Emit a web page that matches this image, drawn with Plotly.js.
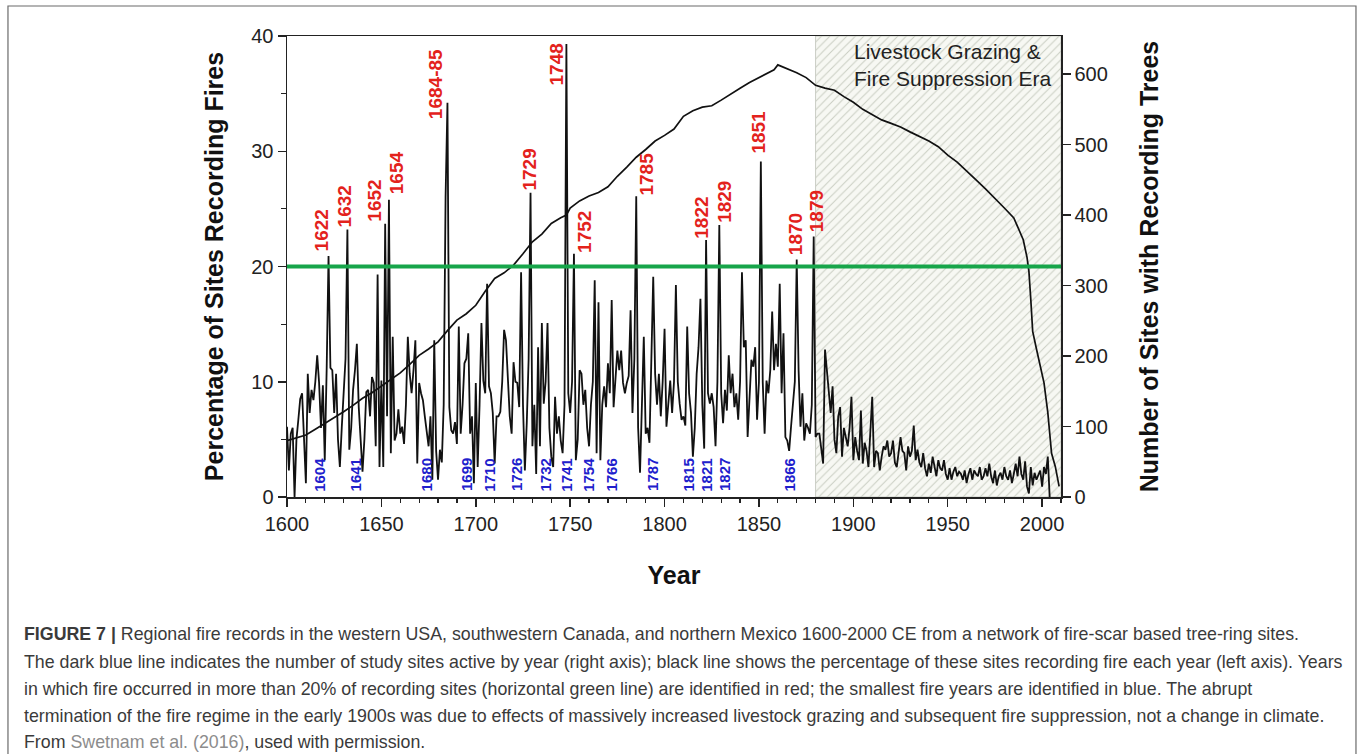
<!DOCTYPE html>
<html>
<head>
<meta charset="utf-8">
<script src="https://cdn.plot.ly/plotly-3.0.1.min.js"></script>
<style>
  html, body { margin: 0; padding: 0; background: #ffffff; }
  #chart { width: 1360px; height: 754px; }
</style>
</head>
<body>
<div id="chart"></div>
<script>
// ---------------- DATA ----------------
// Percentage of sites recording fire, one value per year starting 1600
const fireStartYear = 1600;
const firePct = [
  6.1, 2.3, 5.5, 6.0, 0.0, 5.0, 6.7, 8.5, 9.0, 5.0,      // 1600-1609
  1.2, 10.7, 7.3, 9.3, 8.4, 10.0, 12.3, 9.9, 6.0, 9.7,   // 1610-1619
  3.2, 11.0, 20.9, 11.2, 11.0, 7.3, 10.7, 5.0, 2.6, 6.0, // 1620-1629
  9.3, 12.0, 23.2, 4.1, 6.0, 9.3, 11.0, 13.3, 7.8, 5.0,  // 1630-1639
  2.2, 5.0, 9.1, 9.3, 7.0, 10.4, 9.9, 4.4, 19.3, 2.6,    // 1640-1649
  10.1, 2.6, 23.7, 7.0, 25.8, 3.8, 13.9, 4.9, 5.5, 7.6,  // 1650-1659
  5.5, 6.1, 4.6, 8.0, 13.9, 10.7, 9.0, 11.0, 13.6, 2.9,  // 1660-1669
  9.9, 9.0, 8.4, 7.0, 5.5, 4.4, 7.0, 1.5, 13.6, 4.0,     // 1670-1679
  1.5, 4.1, 3.0, 8.0, 26.0, 34.2, 7.8, 5.8, 5.5, 6.5,    // 1680-1689
  4.6, 14.8, 5.5, 8.0, 11.6, 12.0, 14.2, 5.5, 7.0, 1.2,  // 1690-1699
  9.9, 2.6, 8.0, 15.1, 10.1, 9.0, 18.5, 9.6, 9.0, 7.3,   // 1700-1709
  2.9, 7.0, 7.0, 7.4, 10.0, 14.5, 13.6, 10.0, 7.0, 5.5,  // 1710-1719
  11.7, 10.0, 9.9, 7.8, 19.5, 8.0, 2.3, 6.4, 12.0, 26.4, // 1720-1729
  4.4, 8.0, 2.0, 13.0, 4.4, 15.1, 8.1, 10.0, 15.1, 6.0,  // 1730-1739
  3.5, 2.6, 8.7, 5.5, 7.0, 4.9, 3.8, 8.0, 39.3, 9.0,     // 1740-1749
  7.3, 10.0, 21.1, 3.2, 5.0, 11.0, 10.7, 8.0, 9.3, 6.0,  // 1750-1759
  4.4, 8.0, 10.0, 18.8, 3.8, 16.9, 3.2, 8.0, 9.6, 7.8,   // 1760-1769
  11.6, 9.0, 17.1, 7.8, 10.0, 12.7, 11.0, 12.7, 9.9, 9.0,// 1770-1779
  9.9, 10.5, 16.2, 7.3, 12.0, 26.1, 6.0, 2.1, 8.0, 13.9, // 1780-1789
  5.5, 6.0, 4.7, 12.0, 19.1, 10.7, 8.0, 10.7, 7.0, 10.0, // 1790-1799
  14.6, 6.1, 8.0, 10.1, 7.3, 10.0, 18.4, 10.0, 8.1, 6.7, // 1800-1809
  7.0, 6.2, 14.8, 9.0, 7.3, 3.5, 6.0, 10.7, 13.0, 17.2,  // 1810-1819
  8.0, 4.2, 22.3, 9.0, 8.1, 9.0, 7.8, 4.4, 10.0, 23.6,   // 1820-1829
  9.0, 6.4, 9.3, 7.5, 12.3, 9.0, 10.7, 7.8, 9.0, 6.7,    // 1830-1839
  10.0, 19.5, 13.0, 13.6, 5.2, 9.0, 11.9, 11.3, 13.0, 6.7,// 1840-1849
  10.0, 29.1, 10.0, 5.5, 10.1, 9.0, 11.0, 16.1, 11.0, 13.3,// 1850-1859
  11.3, 18.5, 9.0, 14.2, 5.2, 4.9, 4.0, 6.1, 8.4, 10.0,  // 1860-1869
  20.6, 11.0, 6.1, 9.0, 4.9, 6.4, 6.0, 5.5, 8.0, 22.6,   // 1870-1879
  5.2, 5.5, 5.5, 4.1, 2.9, 12.8, 11.0, 9.3, 7.3, 9.6,    // 1880-1889
  5.0, 3.8, 7.0, 7.8, 3.5, 6.0, 5.2, 4.4, 6.0, 8.7,      // 1890-1899
  3.2, 5.2, 4.0, 3.2, 7.5, 2.9, 4.7, 4.0, 2.6, 5.2,      // 1900-1909
  8.7, 2.6, 4.0, 3.8, 2.3, 3.5, 4.4, 4.1, 4.9, 3.5,      // 1910-1919
  3.8, 4.9, 3.0, 2.6, 3.8, 5.2, 4.0, 3.8, 2.3, 4.4,      // 1920-1929
  3.5, 4.0, 6.2, 3.2, 4.1, 3.0, 2.6, 3.8, 2.5, 1.8,      // 1930-1939
  2.9, 2.1, 3.5, 2.5, 1.8, 3.2, 2.5, 2.3, 3.2, 2.0,      // 1940-1949
  1.5, 2.5, 1.5, 2.2, 2.6, 1.8, 2.2, 2.0, 1.5, 2.3,      // 1950-1959
  1.2, 2.0, 2.5, 1.5, 2.3, 2.0, 1.8, 2.6, 1.5, 1.8,      // 1960-1969
  2.5, 1.8, 2.9, 1.8, 1.2, 2.3, 1.0, 1.8, 2.1, 1.5,      // 1970-1979
  2.6, 1.8, 1.5, 2.3, 1.2, 2.0, 2.9, 1.8, 3.5, 2.0,      // 1980-1989
  1.5, 3.1, 0.9, 0.3, 2.6, 1.0, 2.1, 1.5, 2.0, 2.3,      // 1990-1999
  0.9, 2.6, 2.0, 3.5, 0.0                                 // 2000-2004
];

// Number of sites with recording trees (right axis)
const siteYears = [1600, 1605, 1610, 1615, 1620, 1625, 1630, 1635, 1640, 1645,
  1650, 1655, 1660, 1665, 1670, 1675, 1680, 1685, 1690, 1695,
  1700, 1705, 1710, 1715, 1720, 1725, 1730, 1735, 1740, 1745,
  1748, 1750, 1755, 1760, 1765, 1770, 1775, 1780, 1785, 1790,
  1795, 1800, 1805, 1810, 1815, 1820, 1825, 1830, 1835, 1840,
  1845, 1850, 1855, 1858, 1860, 1863, 1865, 1870, 1875, 1880,
  1885, 1890, 1895, 1900, 1905, 1910, 1915, 1920, 1925, 1930,
  1935, 1940, 1945, 1950, 1955, 1960, 1965, 1970, 1975, 1980,
  1985, 1988, 1990, 1992, 1993, 1994, 1995, 1997, 1999, 2001,
  2003, 2004, 2005, 2007, 2009];
const siteCounts = [80, 84, 88, 96, 104, 112, 121, 130, 140, 148,
  157, 166, 176, 188, 201, 210, 220, 236, 251, 260,
  272, 292, 310, 318, 329, 345, 362, 373, 388, 396,
  400, 410, 420, 427, 432, 440, 455, 468, 482, 493,
  505, 513, 522, 540, 548, 553, 555, 563, 572, 580,
  588, 595, 601, 606, 613, 610, 608, 602, 595, 584,
  580, 577, 568, 560, 550, 542, 535, 530, 525, 518,
  512, 505, 497, 485, 475, 463, 450, 437, 424, 410,
  396, 378, 365, 340, 320, 280, 235, 210, 188, 162,
  120, 92, 62, 43, 15];

// Threshold and era
const thresholdPct = 20;
const eraStart = 1880;
const eraEnd = 2010;
const eraLabel = ['Livestock Grazing &', 'Fire Suppression Era'];

// Labelled large fire years (red) and small fire years (blue)
const redLabels = ['1622', '1632', '1652', '1654', '1684-85', '1729', '1748', '1752',
  '1785', '1822', '1829', '1851', '1870', '1879'];
const blueLabels = ['1604', '1641', '1680', '1699', '1710', '1726', '1732', '1741',
  '1754', '1766', '1787', '1815', '1821', '1827', '1866'];

// ---------------- LABEL PLACEMENT (positions as drawn) ----------------
const redPosX = [1618.4, 1630.7, 1646.6, 1658.1, 1678.4, 1728.7, 1742.9, 1757.9,
  1790.6, 1819.7, 1832.0, 1849.7, 1869.1, 1880.3];
const redPosY = [21.2, 23.3, 23.8, 26.2, 32.7, 26.5, 35.6, 21.1, 26.1, 22.3, 23.7, 29.7, 20.9, 22.9];
const bluePosX = [1617.2, 1636.3, 1673.9, 1695.4, 1707.5, 1721.9, 1737.0, 1748.2,
  1759.7, 1772.0, 1793.9, 1812.7, 1822.4, 1832.1, 1866.2];
const bluePosY = 0.4;

const captionLines = [
  '<b>FIGURE 7 |</b> Regional fire records in the western USA, southwestern Canada, and northern Mexico 1600-2000 CE from a network of fire-scar based tree-ring sites.',
  'The dark blue line indicates the number of study sites active by year (right axis); black line shows the percentage of these sites recording fire each year (left axis). Years',
  'in which fire occurred in more than 20% of recording sites (horizontal green line) are identified in red; the smallest fire years are identified in blue. The abrupt',
  'termination of the fire regime in the early 1900s was due to effects of massively increased livestock grazing and subsequent fire suppression, not a change in climate.',
  'From <span style="color:#8c8c8c">Swetnam et al. (2016)</span>, used with permission.'
];
const captionY = [-0.2972, -0.3579, -0.4165, -0.4751, -0.5315];

// ---------------- BUILD ----------------
const FONT = 'Liberation Sans, Arial, Helvetica, sans-serif';
const fireYears = firePct.map((_, i) => fireStartYear + i);

const traces = [
  {
    type: 'bar',
    x: [(eraStart + eraEnd) / 2],
    y: [40],
    width: [eraEnd - eraStart],
    marker: {
      color: '#f5f6f1',
      line: { color: '#c9cdc4', width: 1 },
      pattern: { shape: '/', fgcolor: '#c9cdc2', bgcolor: '#f7f8f3', size: 6, solidity: 0.16 }
    },
    hoverinfo: 'skip',
    showlegend: false
  },
  {
    type: 'scatter', mode: 'lines',
    x: fireYears, y: firePct,
    line: { color: '#111111', width: 1.8 },
    hoverinfo: 'x+y', showlegend: false
  },
  {
    type: 'scatter', mode: 'lines',
    x: siteYears, y: siteCounts, yaxis: 'y2',
    line: { color: '#111111', width: 1.7 },
    hoverinfo: 'x+y', showlegend: false
  }
];

const annotations = [];
redLabels.forEach((t, i) => {
  annotations.push({
    x: redPosX[i], y: redPosY[i], xref: 'x', yref: 'y',
    text: '<b>' + t + '</b>', showarrow: false, textangle: -90,
    xanchor: 'center', yanchor: 'bottom', borderpad: 0,
    font: { family: FONT, size: 19, color: '#e3221c' }
  });
});
blueLabels.forEach((t, i) => {
  annotations.push({
    x: bluePosX[i], y: bluePosY, xref: 'x', yref: 'y',
    text: '<b>' + t + '</b>', showarrow: false, textangle: -90,
    xanchor: 'center', yanchor: 'bottom', borderpad: 0,
    font: { family: FONT, size: 15, color: '#2020cc' }
  });
});
annotations.push({
  x: 1900, y: 39.7, xref: 'x', yref: 'y',
  text: eraLabel.join('<br>'), showarrow: false, align: 'left',
  xanchor: 'left', yanchor: 'top', borderpad: 0,
  font: { family: FONT, size: 21, color: '#222222' }
});
captionLines.forEach((t, i) => {
  annotations.push({
    x: -0.3424, y: captionY[i], xref: 'paper', yref: 'paper',
    text: t, showarrow: false, align: 'left',
    xanchor: 'left', yanchor: 'middle',
    font: { family: FONT, size: 17.8, color: '#3a3a3a' }
  });
});

const axisCommon = {
  showline: true, linecolor: '#222222', linewidth: 1.5,
  ticks: 'outside', ticklen: 8, tickwidth: 1.5, tickcolor: '#222222',
  showgrid: false, zeroline: false,
  tickfont: { family: FONT, size: 20, color: '#222222' }
};

const layout = {
  width: 1360, height: 754,
  margin: { l: 287, r: 299, t: 36, b: 257, pad: 0 },
  paper_bgcolor: '#ffffff', plot_bgcolor: '#ffffff',
  showlegend: false,
  bargap: 0,
  xaxis: Object.assign({}, axisCommon, {
    range: [1600, 2010], tick0: 1600, dtick: 50, mirror: true,
    minor: { dtick: 10, ticks: 'outside', ticklen: 4, tickwidth: 1.2, tickcolor: '#222222', showgrid: false },
    title: { text: '<b>Year</b>', standoff: 33, font: { family: FONT, size: 25, color: '#111111' } }
  }),
  yaxis: Object.assign({}, axisCommon, {
    range: [0, 40], tick0: 0, dtick: 10,
    minor: { dtick: 5, ticks: 'outside', ticklen: 5, tickwidth: 1.2, tickcolor: '#222222', showgrid: false },
    title: { text: '<b>Percentage of Sites Recording Fires</b>', standoff: 20, font: { family: FONT, size: 25, color: '#111111' } }
  }),
  yaxis2: Object.assign({}, axisCommon, {
    overlaying: 'y', side: 'right',
    range: [0, 654], tick0: 0, dtick: 100,
    title: { text: '<b>Number of Sites with Recording Trees</b>', standoff: 33, font: { family: FONT, size: 25, color: '#111111' } }
  }),
  shapes: [
    {
      type: 'line', xref: 'paper', yref: 'y', x0: 0, x1: 1, y0: thresholdPct, y1: thresholdPct,
      line: { color: '#17a54a', width: 4 }, layer: 'above'
    },
    {
      type: 'rect', xref: 'paper', yref: 'paper', x0: -0.3605, x1: 1.3811, y0: -0.58, y1: 1.0651,
      line: { color: '#6b6b6b', width: 1.2 }, fillcolor: 'rgba(0,0,0,0)', layer: 'below'
    }
  ],
  annotations: annotations
};

Plotly.newPlot('chart', traces, layout, { displayModeBar: false, staticPlot: true });
</script>
</body>
</html>
